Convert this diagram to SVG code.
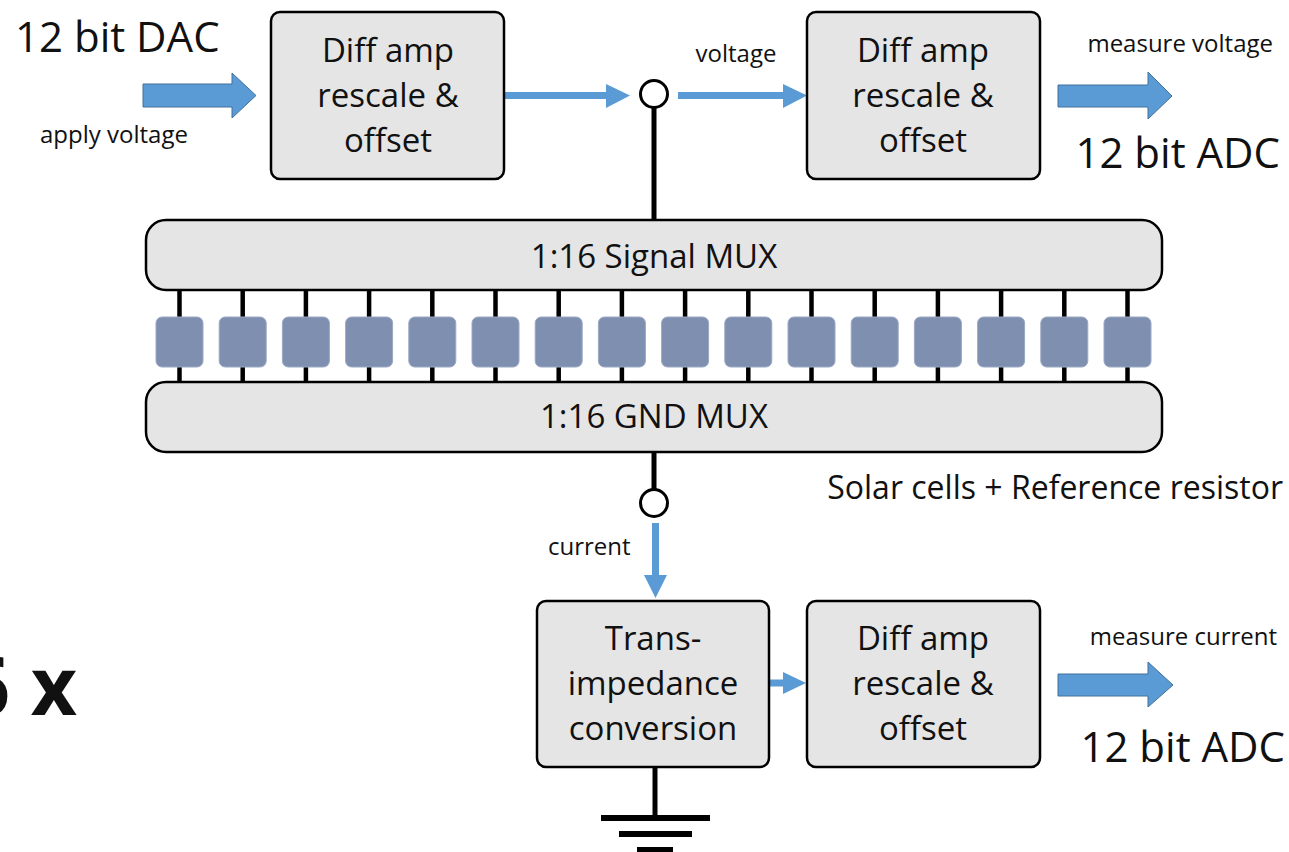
<svg xmlns="http://www.w3.org/2000/svg" width="1289" height="852" viewBox="0 0 1289 852">
<style>
.box{fill:#e5e5e5;stroke:#000;stroke-width:2.5}
.cell{fill:#7f8fb0;stroke:#9aa8c4;stroke-width:1}
.t{font-family:"Open Sans","Noto Sans",sans-serif;fill:#111}
.bt{font-size:33px;text-anchor:middle}
.st{font-size:24px}
.big{font-size:42px}
.wire{stroke:#000;stroke-width:5;fill:none}
.pin{stroke:#000;stroke-width:4.5}
.blk{fill:#5b9bd5;stroke:#41719c;stroke-width:1}
.bl{stroke:#5b9bd5;stroke-width:7;fill:none}
.bh{fill:#5b9bd5}
.node{fill:#fff;stroke:#000;stroke-width:3}
</style>
<rect width="1289" height="852" fill="#fff"/>
<g id="connectors">
  <line class="wire" x1="654" y1="108" x2="654" y2="221"/>
  <line class="wire" x1="654" y1="452" x2="654" y2="489"/>
  <line class="wire" x1="655" y1="767" x2="655" y2="818"/>
  <g id="pins">
    <line class="pin" x1="179.5" y1="290" x2="179.5" y2="382"/>
    <line class="pin" x1="242.7" y1="290" x2="242.7" y2="382"/>
    <line class="pin" x1="305.9" y1="290" x2="305.9" y2="382"/>
    <line class="pin" x1="369.1" y1="290" x2="369.1" y2="382"/>
    <line class="pin" x1="432.3" y1="290" x2="432.3" y2="382"/>
    <line class="pin" x1="495.5" y1="290" x2="495.5" y2="382"/>
    <line class="pin" x1="558.7" y1="290" x2="558.7" y2="382"/>
    <line class="pin" x1="621.9" y1="290" x2="621.9" y2="382"/>
    <line class="pin" x1="685.1" y1="290" x2="685.1" y2="382"/>
    <line class="pin" x1="748.3" y1="290" x2="748.3" y2="382"/>
    <line class="pin" x1="811.5" y1="290" x2="811.5" y2="382"/>
    <line class="pin" x1="874.7" y1="290" x2="874.7" y2="382"/>
    <line class="pin" x1="937.9" y1="290" x2="937.9" y2="382"/>
    <line class="pin" x1="1001.1" y1="290" x2="1001.1" y2="382"/>
    <line class="pin" x1="1064.3" y1="290" x2="1064.3" y2="382"/>
    <line class="pin" x1="1127.5" y1="290" x2="1127.5" y2="382"/>
  </g>
  <line class="bl" x1="505" y1="95.5" x2="608" y2="95.5"/>
  <polygon class="bh" points="606,84 630,95.5 606,108"/>
  <line class="bl" x1="678" y1="95.5" x2="785" y2="95.5"/>
  <polygon class="bh" points="783,84 807,95.5 783,108"/>
  <line class="bl" x1="655.5" y1="523" x2="655.5" y2="577"/>
  <polygon class="bh" points="644,575 667,575 655.5,598"/>
  <line class="bl" x1="769" y1="683" x2="785" y2="683"/>
  <polygon class="bh" points="783,672 806,683 783,694"/>
  <polygon class="blk" points="143,84 232,84 232,73 256,95.5 232,118 232,107 143,107"/>
  <polygon class="blk" points="1058,85 1148,85 1148,72 1172,96 1148,119 1148,107 1058,107"/>
  <polygon class="blk" points="1058,674 1148,674 1148,662 1173,685 1148,707 1148,696 1058,696"/>
  <circle class="node" cx="654" cy="94" r="13.5"/>
  <circle class="node" cx="654" cy="503" r="13.5"/>
  <g id="ground" fill="#000">
    <rect x="601" y="815" width="109" height="6"/>
    <rect x="619" y="831" width="73" height="6"/>
    <rect x="637" y="847" width="36" height="6"/>
  </g>
</g>
<g id="dac">
  <text class="t big" x="15" y="52">12 bit DAC</text>
  <text class="t st" x="40" y="143">apply voltage</text>
</g>
<g id="diffamp1">
  <rect class="box" x="271" y="12" width="233" height="167" rx="9"/>
  <text class="t bt" x="388"><tspan x="388" y="62">Diff amp</tspan><tspan x="388" y="107">rescale &amp;</tspan><tspan x="388" y="152">offset</tspan></text>
</g>
<g id="voltage-label"><text class="t st" x="736" y="62" text-anchor="middle">voltage</text></g>
<g id="diffamp2">
  <rect class="box" x="807" y="12" width="233" height="167" rx="9"/>
  <text class="t bt" x="923"><tspan x="923" y="62">Diff amp</tspan><tspan x="923" y="107">rescale &amp;</tspan><tspan x="923" y="152">offset</tspan></text>
</g>
<g id="adc1">
  <text class="t st" x="1273" y="52" text-anchor="end">measure voltage</text>
  <text class="t big" x="1280" y="168" text-anchor="end">12 bit ADC</text>
</g>
<g id="signal-mux">
  <rect class="box" x="146" y="220" width="1016" height="70" rx="20"/>
  <text class="t bt" x="654" y="268">1:16 Signal MUX</text>
</g>
<g id="cells">
  <rect class="cell" x="156" y="317" width="47" height="50" rx="6"/>
  <rect class="cell" x="219.2" y="317" width="47" height="50" rx="6"/>
  <rect class="cell" x="282.4" y="317" width="47" height="50" rx="6"/>
  <rect class="cell" x="345.6" y="317" width="47" height="50" rx="6"/>
  <rect class="cell" x="408.8" y="317" width="47" height="50" rx="6"/>
  <rect class="cell" x="472" y="317" width="47" height="50" rx="6"/>
  <rect class="cell" x="535.2" y="317" width="47" height="50" rx="6"/>
  <rect class="cell" x="598.4" y="317" width="47" height="50" rx="6"/>
  <rect class="cell" x="661.6" y="317" width="47" height="50" rx="6"/>
  <rect class="cell" x="724.8" y="317" width="47" height="50" rx="6"/>
  <rect class="cell" x="788" y="317" width="47" height="50" rx="6"/>
  <rect class="cell" x="851.2" y="317" width="47" height="50" rx="6"/>
  <rect class="cell" x="914.4" y="317" width="47" height="50" rx="6"/>
  <rect class="cell" x="977.6" y="317" width="47" height="50" rx="6"/>
  <rect class="cell" x="1040.8" y="317" width="47" height="50" rx="6"/>
  <rect class="cell" x="1104" y="317" width="47" height="50" rx="6"/>
</g>
<g id="gnd-mux">
  <rect class="box" x="146" y="382" width="1016" height="70" rx="20"/>
  <text class="t bt" x="654" y="428">1:16 GND MUX</text>
</g>
<g id="solar-label"><text class="t" x="1283" y="499" font-size="32" text-anchor="end">Solar cells + Reference resistor</text></g>
<g id="current-label"><text class="t st" x="548" y="555">current</text></g>
<g id="transimpedance">
  <rect class="box" x="537" y="601" width="232" height="166" rx="9"/>
  <text class="t bt" x="653"><tspan x="653" y="650">Trans-</tspan><tspan x="653" y="695">impedance</tspan><tspan x="653" y="740">conversion</tspan></text>
</g>
<g id="diffamp3">
  <rect class="box" x="807" y="601" width="233" height="166" rx="9"/>
  <text class="t bt" x="923"><tspan x="923" y="650">Diff amp</tspan><tspan x="923" y="695">rescale &amp;</tspan><tspan x="923" y="740">offset</tspan></text>
</g>
<g id="adc2">
  <text class="t st" x="1277" y="645" text-anchor="end">measure current</text>
  <text class="t big" x="1285" y="762" text-anchor="end">12 bit ADC</text>
</g>
<g id="count"><text class="t" x="77" y="715" font-size="80" font-weight="bold" text-anchor="end">6 x</text></g>
</svg>
